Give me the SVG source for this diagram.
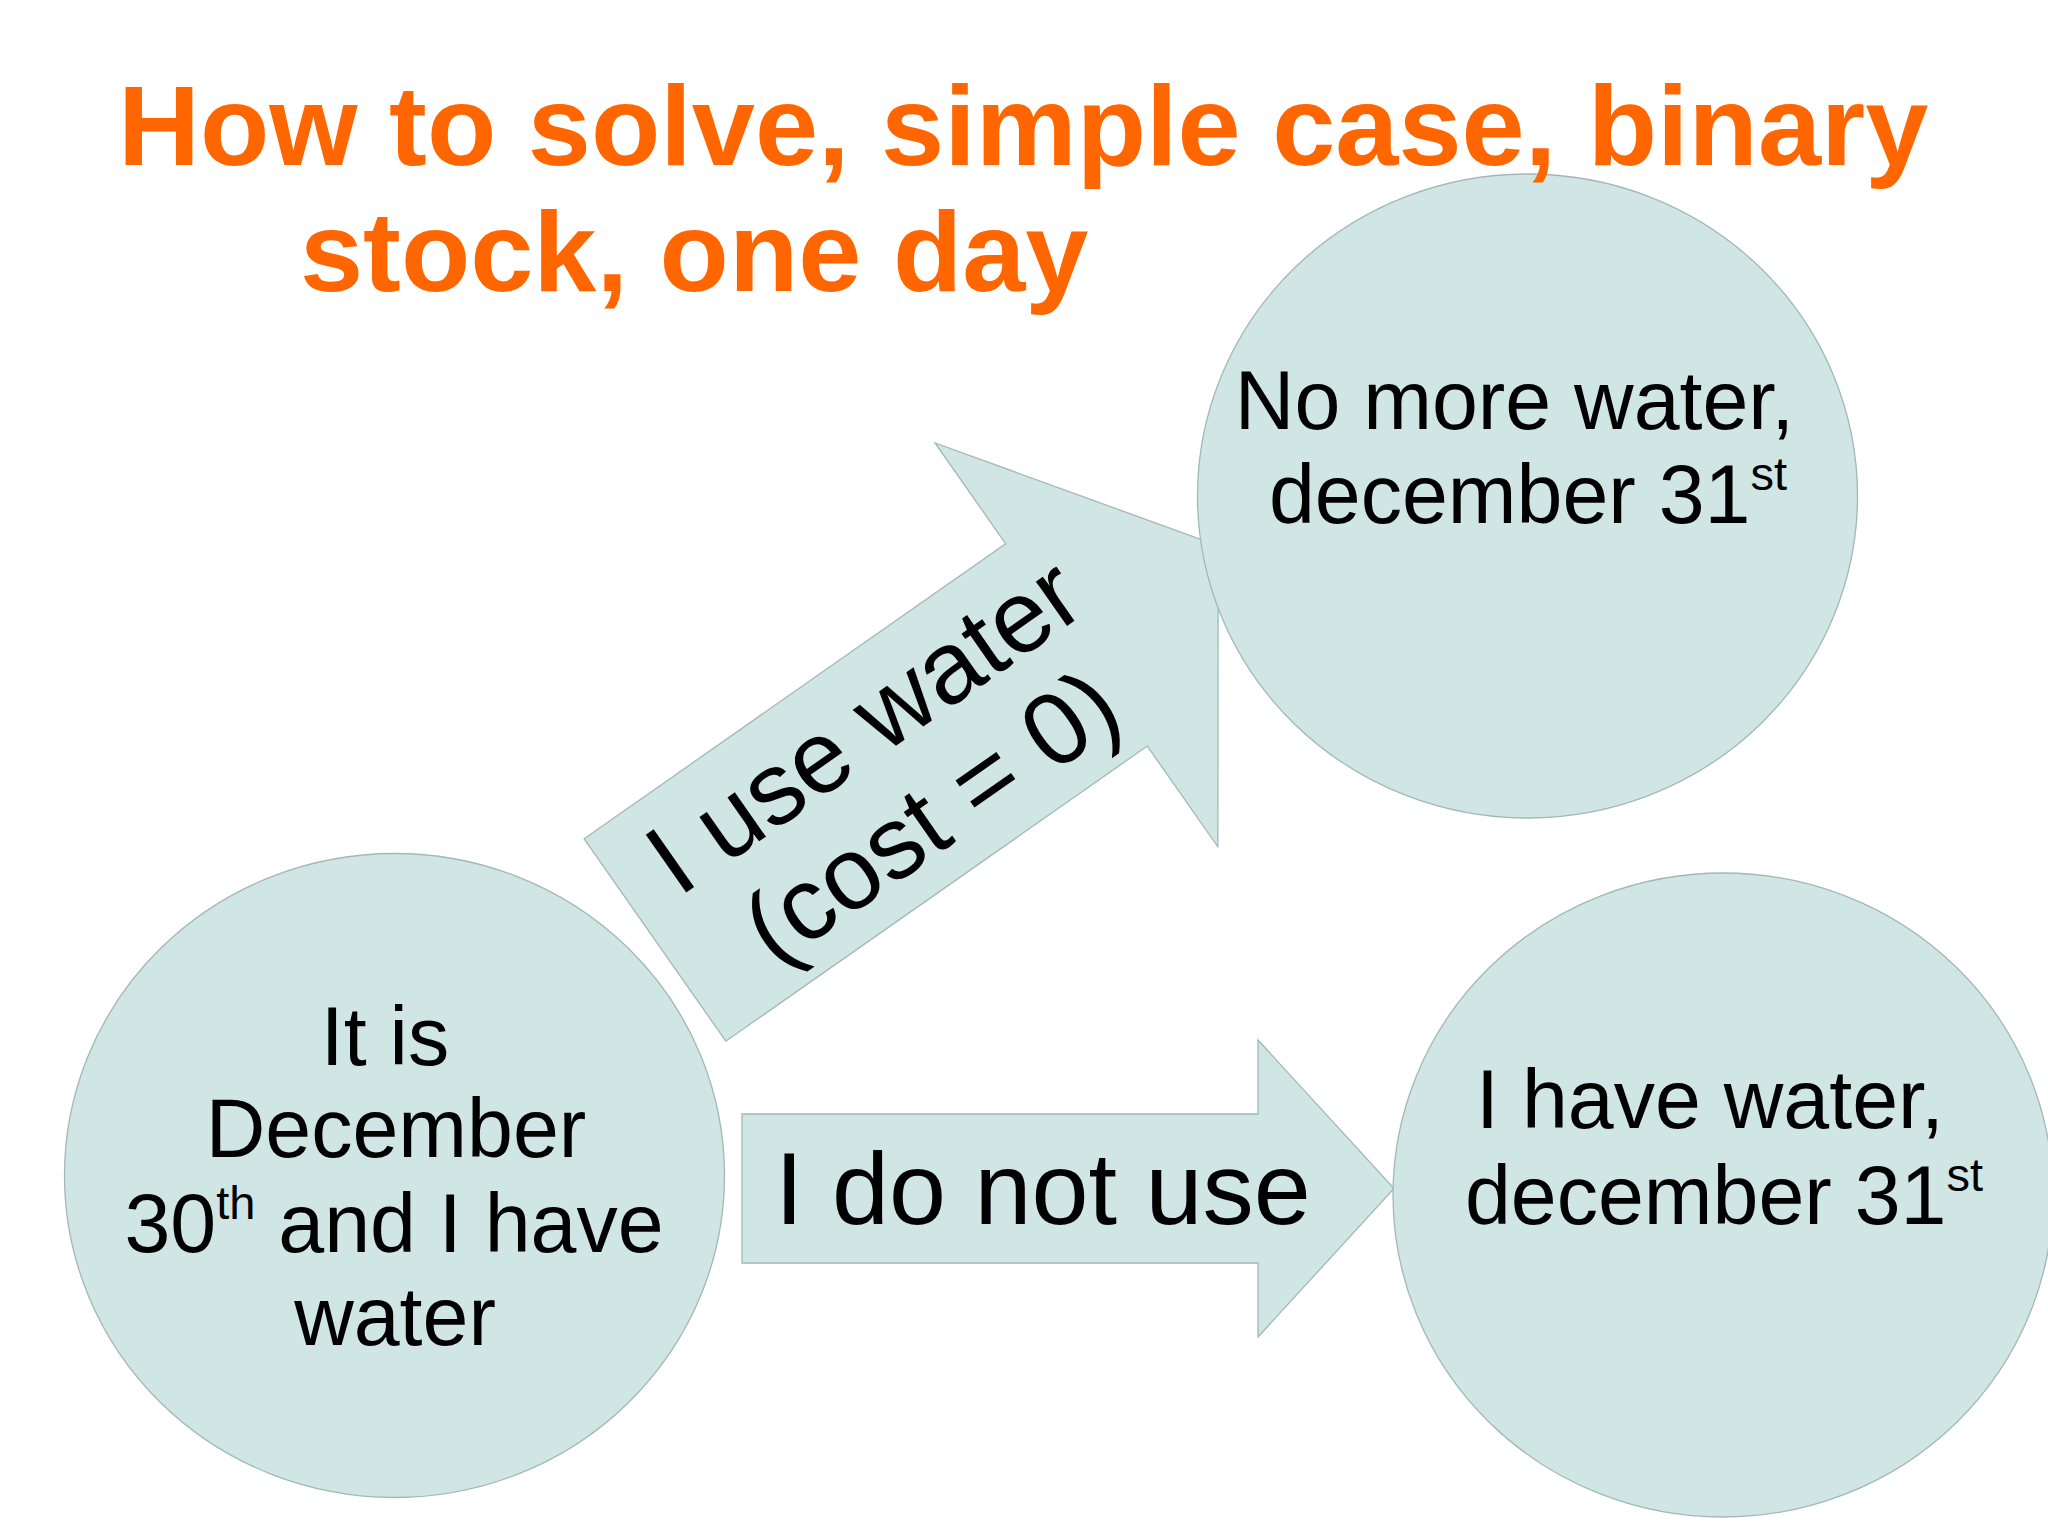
<svg xmlns="http://www.w3.org/2000/svg" width="2048" height="1535" viewBox="0 0 2048 1535">
<style>
.shape{fill:#cfe6e4;stroke:#a3b8b6;stroke-width:1.3}
.lbl{font-family:"Liberation Sans",Arial,sans-serif;fill:#000;font-size:82.5px}
.big{font-size:102.5px}
.sup{font-size:47px}
.title{font-family:"Liberation Sans",Arial,sans-serif;font-weight:bold;fill:#ff6600;font-size:113.5px}
</style>
<rect x="0" y="0" width="2048" height="1535" fill="#ffffff"/>
<g id="connectors">
  <g id="arrow-use" transform="translate(655,940) rotate(-35)">
    <polygon class="shape" points="0,-123.5 514.5,-123.5 514.5,-246.5 687.5,0 514.5,246.5 514.5,123.5 0,123.5"/>
    <text class="lbl big" x="294" y="-21" text-anchor="middle">I use water</text>
    <text class="lbl big" x="297" y="92" text-anchor="middle">(cost = 0)</text>
  </g>
  <g id="arrow-notuse">
    <polygon class="shape" points="742,1114 1258,1114 1258,1040 1394,1188.5 1258,1337 1258,1263 742,1263"/>
    <text class="lbl big" x="775" y="1224">I do not use</text>
  </g>
</g>
<g id="node-start">
  <ellipse class="shape" cx="394.5" cy="1175.5" rx="330" ry="322"/>
  <text class="lbl" x="385" y="1065" text-anchor="middle">It is</text>
  <text class="lbl" x="396" y="1157" text-anchor="middle">December</text>
  <text class="lbl" x="394" y="1252" text-anchor="middle">30<tspan class="sup" dy="-33">th</tspan><tspan dy="33"> and I have</tspan></text>
  <text class="lbl" x="395" y="1345" text-anchor="middle">water</text>
</g>
<g id="node-nowater">
  <ellipse class="shape" cx="1527.5" cy="496" rx="330" ry="322"/>
  <text class="lbl" x="1514.5" y="429" text-anchor="middle">No more water,</text>
  <text class="lbl" x="1528" y="523" text-anchor="middle">december 31<tspan class="sup" dy="-33">st</tspan></text>
</g>
<g id="node-havewater">
  <ellipse class="shape" cx="1723" cy="1195" rx="330" ry="322"/>
  <text class="lbl" x="1710" y="1128" text-anchor="middle">I have water,</text>
  <text class="lbl" x="1724" y="1224" text-anchor="middle">december 31<tspan class="sup" dy="-33">st</tspan></text>
</g>
<g id="title">
  <text class="title" x="118" y="165">How to solve, simple case, binary</text>
  <text class="title" x="300" y="291">stock, one day</text>
</g>
</svg>
